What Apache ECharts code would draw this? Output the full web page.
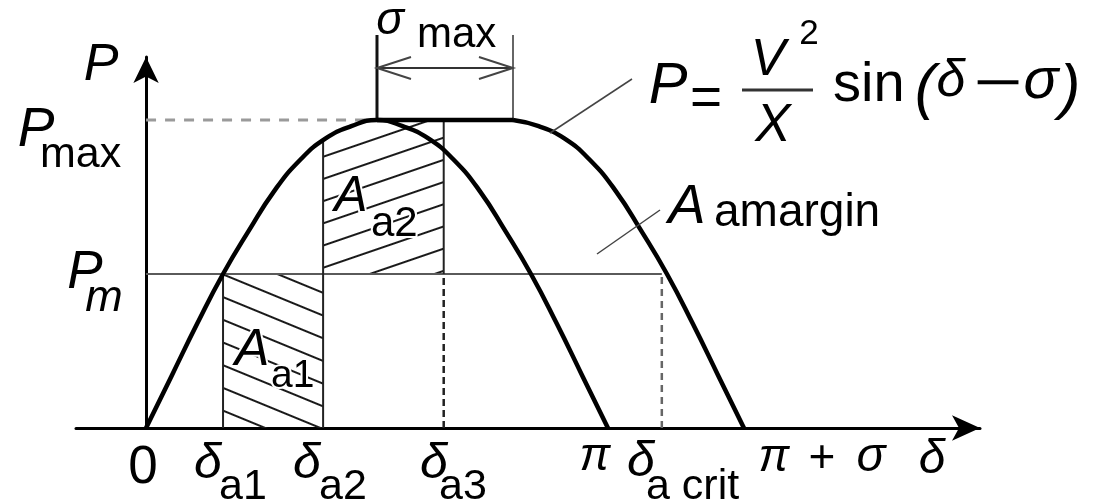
<!DOCTYPE html>
<html>
<head>
<meta charset="utf-8">
<script src="https://cdn.jsdelivr.net/npm/echarts@6/dist/echarts.min.js"></script>
<style>
  html, body { margin: 0; padding: 0; background: #fff; }
  #chart { width: 1094px; height: 501px; }
</style>
</head>
<body>
<div id="chart"></div>
<script>
// Power–angle diagram of a line with a phase shifter: P = V²/X · sin(δ − σ)
// δ in degrees, P in units of V²/X.

const SIGMA_MAX = 53;      // σmax
const P_M = 0.5;           // Pm
const P_MAX = 1.0;         // Pmax
const DELTA_A1 = 30;
const DELTA_A2 = 69;
const DELTA_A3 = 116;
const DELTA_CRIT = 201;
const P_AT_A2 = 0.93;      // curve height at δa2

// sin δ branch (σ = 0)
const curveDelta = [0, 10, 20, 30, 40, 50, 60, 70, 80, 90, 100, 110, 120, 130, 140, 150, 160, 170, 180];
const curvePower = [0, 0.17, 0.34, 0.50, 0.64, 0.77, 0.87, 0.94, 0.98, 1.00, 0.98, 0.94, 0.87, 0.77, 0.64, 0.50, 0.34, 0.17, 0];

// shifted branch (σ = σmax), falling part after its peak
const shiftedDelta = [143, 153, 163, 173, 183, 193, 203, 213, 223, 233];
const shiftedPower = [1.00, 0.98, 0.94, 0.87, 0.77, 0.64, 0.50, 0.34, 0.17, 0];

// δ-axis tick positions and their labels
const xTickValues = [0, DELTA_A1, DELTA_A2, DELTA_A3, 180, DELTA_CRIT, 180 + SIGMA_MAX];
const xTickMain = ['0', 'δ', 'δ', 'δ', 'π', 'δ', 'π'];
const xTickSub  = ['', 'a1', 'a2', 'a3', '', 'a crit', ''];

// heights of the σmax dimension bracket (above Pmax)
const BRACKET_TOP = 1.276;
const BRACKET_ARROW = 1.169;

const FONT = '"Liberation Sans", Arial, Helvetica, sans-serif';

const pairs = (xs, ys) => xs.map((x, i) => [x, ys[i]]);

function seg(data, color, width, type, extra) {
  return Object.assign({
    type: 'line', data, symbol: 'none', silent: true, clip: false,
    lineStyle: { color, width, type: type || 'solid', cap: 'butt' },
    z: 3
  }, extra || {});
}

// hatched area regions
const hatchA1 = [[DELTA_A1, P_M], [DELTA_A2, P_M]];
const hatchA2 = [[DELTA_A2, P_AT_A2]]
  .concat(pairs(curveDelta, curvePower).filter(p => p[0] > DELTA_A2 && p[0] <= 90))
  .concat([[DELTA_A3, P_MAX]]);

function hatchSeries(data, rotation, origin) {
  return {
    type: 'line', data, symbol: 'none', silent: true, z: 1,
    lineStyle: { width: 0, color: 'rgba(0,0,0,0)' },
    itemStyle: {
      color: '#000',
      decal: {
        symbol: 'rect', symbolSize: 1,
        dashArrayX: [1, 0], dashArrayY: [2, 18.5],
        rotation, color: '#1a1a1a', backgroundColor: 'rgba(0,0,0,0)'
      }
    },
    areaStyle: { color: 'rgba(255,255,255,0)', opacity: 1, origin }
  };
}

const series = [
  hatchSeries(hatchA1, 0.39, 'start'),
  hatchSeries(hatchA2, -0.33, P_M),

  // reference lines
  seg([[0, P_MAX], [90, P_MAX]], '#9a9a9a', 3, [10, 9]),
  seg([[0, P_M], [DELTA_CRIT, P_M]], '#5a5a5a', 2),
  seg([[DELTA_A1, 0], [DELTA_A1, P_M]], '#222', 2),
  seg([[DELTA_A2, 0], [DELTA_A2, P_AT_A2]], '#222', 2),
  seg([[DELTA_A3, P_M], [DELTA_A3, P_MAX]], '#222', 2),
  seg([[DELTA_A3, 0], [DELTA_A3, P_M]], '#222', 2.5, [7, 4]),
  seg([[DELTA_CRIT, 0], [DELTA_CRIT, P_M]], '#666', 2.5, [7, 5]),

  // σmax bracket
  seg([[90, P_MAX], [90, BRACKET_TOP]], '#111', 3),
  seg([[90 + SIGMA_MAX, P_MAX], [90 + SIGMA_MAX, BRACKET_TOP]], '#666', 2),
  seg([[90, BRACKET_ARROW], [90 + SIGMA_MAX, BRACKET_ARROW]], '#333', 2),
  {
    type: 'custom', silent: true, z: 4, clip: false,
    data: [[90, BRACKET_ARROW], [90 + SIGMA_MAX, BRACKET_ARROW]],
    renderItem: (params, api) => {
      const p = api.coord([api.value(0), api.value(1)]);
      const d = params.dataIndex === 0 ? 1 : -1;
      return {
        type: 'polyline',
        shape: { points: [[p[0] + d * 34, p[1] - 11], [p[0], p[1]], [p[0] + d * 34, p[1] + 11]] },
        style: { stroke: '#444', lineWidth: 2, fill: null }
      };
    }
  },

  // power curves
  seg(pairs(curveDelta, curvePower), '#000', 4.5, 'solid', { smooth: 0.5, z: 5 }),
  seg([[90, P_MAX], [90 + SIGMA_MAX, P_MAX]], '#000', 4.5, 'solid', { z: 5 }),
  seg(pairs(shiftedDelta, shiftedPower), '#000', 4.5, 'solid', { smooth: 0.5, z: 5 })
];

// text helpers: x is the anchor, base the baseline
function txt(str, x, base, size, opt) {
  opt = opt || {};
  const align = opt.align || 'center';
  const sx = opt.scaleX || 1;
  return {
    type: 'text', z: 100, silent: true,
    x, y: base - 0.31 * size, scaleX: sx,
    style: {
      text: str, x: 0, y: 0,
      font: (opt.italic ? 'italic ' : '') + size + 'px ' + FONT,
      fill: opt.fill || '#000',
      textAlign: align, align,
      textVerticalAlign: 'middle', verticalAlign: 'middle',
      stroke: opt.halo ? '#fff' : null, lineWidth: opt.halo ? 4 : 0
    }
  };
}

const tickLayout = [
  { x: 143, base: 485, subX: 0 },
  { x: 208, base: 480, subX: 219 },
  { x: 307, base: 480, subX: 319 },
  { x: 434, base: 480, subX: 439 },
  { x: 595, base: 471, subX: 0 },
  { x: 641, base: 478, subX: 646 }
];

const graphics = [];
tickLayout.forEach((t, i) => {
  const main = xTickMain[i];
  graphics.push(txt(main, t.x, t.base, main === '0' ? 53 : (main === 'π' ? 46 : 50), { italic: main !== '0' }));
  if (xTickSub[i]) graphics.push(txt(xTickSub[i], t.subX, 500, 43, { align: 'left' }));
});
// π + σ  and axis name δ
graphics.push(txt('π', 774, 472, 46, { italic: true }));
graphics.push(txt('+', 822, 474, 46));
graphics.push(txt('σ', 871, 473, 48, { italic: true }));
graphics.push(txt('δ', 932, 475, 48, { italic: true }));

// P axis labels
graphics.push(txt('P', 101, 82, 52, { italic: true }));
graphics.push(txt('P', 36, 148, 55, { italic: true }));
graphics.push(txt('max', 40, 168, 43, { align: 'left' }));
graphics.push(txt('P', 85, 290, 53, { italic: true }));
graphics.push(txt('m', 104, 312, 45, { italic: true }));

// σmax label
graphics.push(txt('σ', 390, 35, 46, { italic: true }));
graphics.push(txt('max', 417, 48, 42, { align: 'left' }));

// formula
graphics.push(txt('P', 668, 105, 58, { italic: true }));
graphics.push(txt('=', 706, 117, 55));
graphics.push(txt('V', 768, 77, 52, { italic: true }));
graphics.push(txt('2', 809, 45, 35));
graphics.push(txt('X', 773, 143, 53, { italic: true }));
graphics.push(txt('sin', 833, 103, 56, { align: 'left' }));
graphics.push(txt('(', 925, 109, 62, { italic: true }));
graphics.push(txt('δ', 951, 98, 52, { italic: true }));
graphics.push(txt('−', 998, 103, 56, { scaleX: 1.5 }));
graphics.push(txt('σ', 1041, 100, 58, { italic: true }));
graphics.push(txt(')', 1070, 109, 62, { italic: true }));
graphics.push({ type: 'line', z: 100, silent: true, shape: { x1: 742, y1: 90, x2: 813, y2: 90 }, style: { stroke: '#333', lineWidth: 3 } });

// area labels
graphics.push(txt('A', 687, 225, 56, { italic: true }));
graphics.push(txt('amargin', 714, 228, 46, { align: 'left' }));
graphics.push(txt('A', 252, 367, 52, { italic: true, halo: true }));
graphics.push(txt('a1', 271, 388, 39, { align: 'left', halo: true }));
graphics.push(txt('A', 351, 213, 50, { italic: true, halo: true }));
graphics.push(txt('a2', 371, 237, 42, { align: 'left', halo: true }));

// leader lines
graphics.push({ type: 'line', z: 99, silent: true, shape: { x1: 550, y1: 133, x2: 632, y2: 79 }, style: { stroke: '#444', lineWidth: 1.5 } });
graphics.push({ type: 'line', z: 99, silent: true, shape: { x1: 597, y1: 254, x2: 660, y2: 210 }, style: { stroke: '#444', lineWidth: 1.5 } });

const chart = echarts.init(document.getElementById('chart'), null, { renderer: 'canvas' });
chart.setOption({
  animation: false,
  backgroundColor: '#fff',
  grid: { left: 76, right: 114, top: 57, bottom: 73 },
  xAxis: {
    type: 'value', min: -27.3, max: 325.0,
    axisLine: { show: true, onZero: true, symbol: ['none', 'arrow'], symbolSize: [19, 28], lineStyle: { color: '#000', width: 3 } },
    axisTick: { show: false }, axisLabel: { show: false }, splitLine: { show: false }
  },
  yAxis: {
    type: 'value', min: 0, max: 1.2045,
    axisLine: { show: true, onZero: true, symbol: ['none', 'arrow'], symbolSize: [19, 26], lineStyle: { color: '#000', width: 3 } },
    axisTick: { show: false }, axisLabel: { show: false }, splitLine: { show: false }
  },
  series,
  graphic: graphics
});
</script>
</body>
</html>
